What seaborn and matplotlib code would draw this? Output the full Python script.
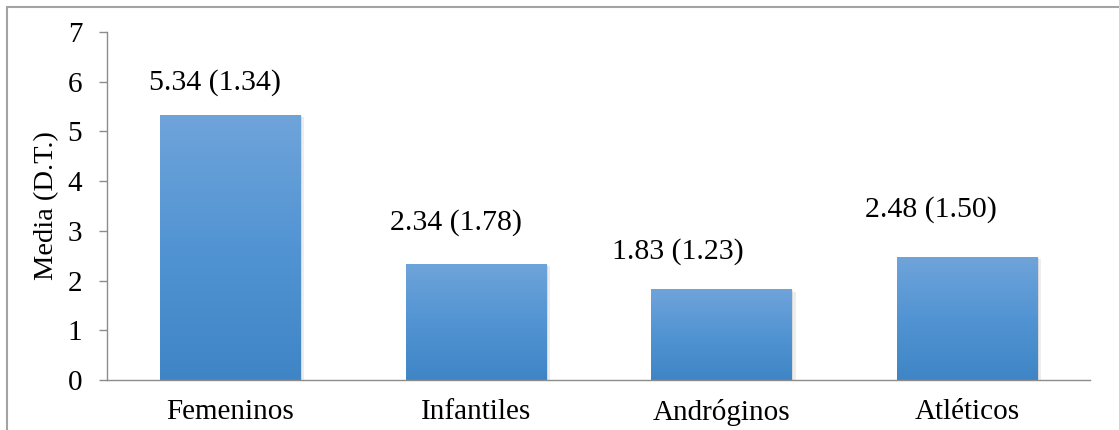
import numpy as np
import pandas as pd
import matplotlib
matplotlib.use("Agg")
import matplotlib.pyplot as plt
import seaborn as sns
from matplotlib.colors import LinearSegmentedColormap
from matplotlib import patheffects as pe
from matplotlib.lines import Line2D

# Mean (SD) score per body type
categories = ["Femeninos", "Infantiles", "Andróginos", "Atléticos"]
means = [5.34, 2.34, 1.83, 2.48]
sds = [1.34, 1.78, 1.23, 1.50]
y_ticks = [0, 1, 2, 3, 4, 5, 6, 7]
y_label = "Media (D.T.)"

# per-label nudges (pixels) for the value annotations
label_offsets = [(-15, 32), (-20, 41), (-43, 37), (-36, 47)]

sns.set_theme(style="white")
plt.rcParams["font.family"] = ["Liberation Serif", "DejaVu Serif"]

FS_VALUE = 21.5
FS_TICK = 21
FS_LABEL = 20.5

W, H = 1119, 430
fig = plt.figure(figsize=(W / 100, H / 100), dpi=100)
ax = fig.add_axes([107 / W, 50 / H, 983 / W, 348 / H])

df = pd.DataFrame({"Tipo": categories, "Media": means})
sns.barplot(data=df, x="Tipo", y="Media", color="#5593D0", saturation=1,
            width=0.57, ax=ax, errorbar=None)

# vertical blue gradient inside every bar, plus a soft drop shadow
grad_cmap = LinearSegmentedColormap.from_list("barblue", ["#3F85C6", "#5294D3", "#6FA4DA"])
grad = np.linspace(0, 1, 256).reshape(-1, 1)
for patch in list(ax.patches):
    x0, y0 = patch.get_x(), patch.get_y()
    w, h = patch.get_width(), patch.get_height()
    patch.set_edgecolor("none")
    patch.set_path_effects([
        pe.SimplePatchShadow(offset=(3, -2), shadow_rgbFace="#a0a0a0", alpha=0.18),
        pe.SimplePatchShadow(offset=(1.5, -1), shadow_rgbFace="#a0a0a0", alpha=0.25),
        pe.Normal(),
    ])
    im = ax.imshow(grad, extent=[x0, x0 + w, y0, y0 + h], origin="lower",
                   aspect="auto", cmap=grad_cmap, zorder=patch.get_zorder() + 0.1,
                   interpolation="bilinear")
    im.set_clip_path(patch)

for i, (m, s) in enumerate(zip(means, sds)):
    dx, dy = label_offsets[i]
    ax.annotate(f"{m:.2f} ({s:.2f})", xy=(i, m), xytext=(dx, dy),
                textcoords="offset pixels", ha="center", va="center",
                fontsize=FS_VALUE, color="black")

ax.set_xlim(-0.5, len(categories) - 0.5)
ax.set_ylim(0, 7)
ax.set_yticks(y_ticks)
ax.set_xlabel("")
ax.set_ylabel(y_label, fontsize=FS_LABEL, color="black")
ax.yaxis.set_label_coords(-0.049, 0.5)

spine_color = "#8c8c8c"
for side in ["top", "right"]:
    ax.spines[side].set_visible(False)
for side in ["left", "bottom"]:
    ax.spines[side].set_color(spine_color)
    ax.spines[side].set_linewidth(1.0)

ax.tick_params(axis="y", direction="out", length=5.8, width=1.0,
               color=spine_color, pad=12, labelsize=FS_TICK, labelcolor="black", left=True)
ax.tick_params(axis="x", length=0, pad=14, labelsize=FS_TICK, labelcolor="black")

# outer chart frame
fig.add_artist(Line2D([7 / W, 7 / W], [0, 1 - 7 / H], transform=fig.transFigure,
                      color="#a3a3a3", lw=1.5))
fig.add_artist(Line2D([7 / W, 1], [1 - 7 / H, 1 - 7 / H], transform=fig.transFigure,
                      color="#a3a3a3", lw=1.5))

fig.savefig("out.png", dpi=100, facecolor="white")
